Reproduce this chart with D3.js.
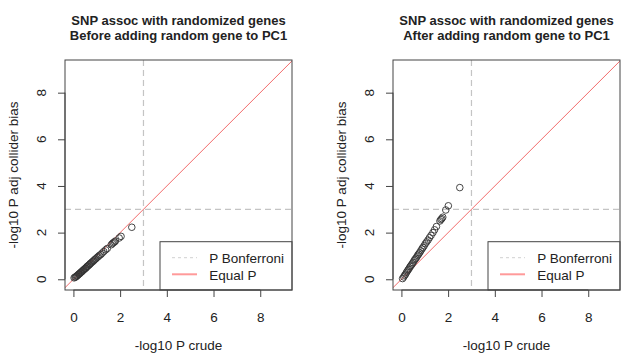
<!DOCTYPE html>
<html>
<head>
<meta charset="utf-8">
<script src="https://cdn.jsdelivr.net/npm/d3@7"></script>
<style>
  html, body { margin: 0; padding: 0; background: #fff; }
  svg { display: block; }
  text { font-family: "Liberation Sans", Arial, Helvetica, sans-serif; fill: #222; }
</style>
</head>
<body>
<svg id="chart" width="624" height="359"></svg>
<script>
// ---- data ----
const titlesLine1 = ["SNP assoc with randomized genes", "SNP assoc with randomized genes"];
const titlesLine2 = ["Before adding random gene to PC1", "After adding random gene to PC1"];
const xLabel = "-log10 P crude";
const yLabel = "-log10 P adj collider bias";
const xTicks = [0, 2, 4, 6, 8];
const yTicks = [0, 2, 4, 6, 8];
const bonferroni = 3;
const legendLabels = ["P Bonferroni", "Equal P"];

const crudeBefore = [0.03, 0.07, 0.1, 0.13, 0.16, 0.19, 0.22, 0.25, 0.28, 0.31, 0.34, 0.37, 0.4, 0.43, 0.46, 0.5, 0.53, 0.56, 0.59, 0.62, 0.66, 0.69, 0.72, 0.76, 0.8, 0.84, 0.88, 0.92, 0.96, 1.01, 1.06, 1.11, 1.17, 1.23, 1.3, 1.38, 1.45, 1.62, 1.67, 1.71, 1.76, 1.8, 1.96, 2.04, 2.5];
const adjBefore   = [0.06, 0.09, 0.1, 0.13, 0.15, 0.18, 0.21, 0.23, 0.26, 0.29, 0.31, 0.34, 0.37, 0.4, 0.42, 0.46, 0.48, 0.52, 0.55, 0.57, 0.61, 0.63, 0.67, 0.7, 0.74, 0.77, 0.81, 0.85, 0.88, 0.93, 0.97, 1.02, 1.06, 1.12, 1.19, 1.26, 1.32, 1.48, 1.53, 1.57, 1.6, 1.64, 1.77, 1.84, 2.23];

const crudeAfter = [0.05, 0.1, 0.14, 0.18, 0.22, 0.26, 0.3, 0.34, 0.38, 0.42, 0.46, 0.5, 0.54, 0.58, 0.62, 0.66, 0.7, 0.74, 0.78, 0.83, 0.88, 0.92, 0.97, 1.02, 1.08, 1.14, 1.2, 1.27, 1.35, 1.42, 1.5, 1.65, 1.69, 1.73, 1.77, 1.9, 2.01, 2.5];
const adjAfter   = [0.03, 0.1, 0.17, 0.22, 0.3, 0.36, 0.42, 0.48, 0.55, 0.6, 0.66, 0.72, 0.79, 0.85, 0.9, 0.96, 1.03, 1.08, 1.14, 1.22, 1.3, 1.36, 1.43, 1.52, 1.6, 1.68, 1.78, 1.88, 2.0, 2.12, 2.26, 2.5, 2.56, 2.6, 2.66, 2.97, 3.15, 3.93];

const panels = [
  { crude: crudeBefore, adj: adjBefore, left: 65 },
  { crude: crudeAfter, adj: adjAfter, left: 393 }
];

// ---- drawing ----
const svg = d3.select("#chart");
const plotW = 227, plotTop = 60, plotBottom = 290;
const xDomain = [-0.36, 9.36];
const yDomain = [-0.46, 9.4];
const boxCol = "#444";
const fs = "13.5px";

panels.forEach((p, i) => {
  const x = d3.scaleLinear().domain(xDomain).range([p.left, p.left + plotW]);
  const y = d3.scaleLinear().domain(yDomain).range([plotBottom, plotTop]);
  const g = svg.append("g");
  const cx = p.left + plotW / 2;

  // titles
  g.append("text").attr("x", cx).attr("y", 24.5).attr("text-anchor", "middle")
    .style("font-size", "13px").style("font-weight", "bold").text(titlesLine1[i]);
  g.append("text").attr("x", cx).attr("y", 39.5).attr("text-anchor", "middle")
    .style("font-size", "13px").style("font-weight", "bold").text(titlesLine2[i]);

  // clip
  const clipId = "clip" + i;
  svg.append("clipPath").attr("id", clipId).append("rect")
    .attr("x", p.left).attr("y", plotTop).attr("width", plotW).attr("height", plotBottom - plotTop);
  const inner = g.append("g").attr("clip-path", `url(#${clipId})`);

  // Bonferroni lines
  inner.append("line").attr("x1", x(bonferroni)).attr("x2", x(bonferroni))
    .attr("y1", plotTop).attr("y2", plotBottom)
    .attr("stroke", "#c4c4c4").attr("stroke-width", 1.2).attr("stroke-dasharray", "6,4");
  inner.append("line").attr("x1", p.left).attr("x2", p.left + plotW)
    .attr("y1", y(bonferroni)).attr("y2", y(bonferroni))
    .attr("stroke", "#c4c4c4").attr("stroke-width", 1.2).attr("stroke-dasharray", "6,4");

  // Equal P line
  inner.append("line").attr("x1", x(xDomain[0])).attr("y1", y(xDomain[0]))
    .attr("x2", x(xDomain[1] + 1)).attr("y2", y(xDomain[1] + 1))
    .attr("stroke", "#f26b6b").attr("stroke-width", 1);

  // points
  const pts = p.crude.map((c, k) => ({ c: c, a: p.adj[k] }));
  inner.selectAll("circle").data(pts).enter().append("circle")
    .attr("cx", d => x(d.c)).attr("cy", d => y(d.a)).attr("r", 3.3)
    .attr("fill", "none").attr("stroke", "#333").attr("stroke-width", 0.9);

  // legend
  const lgL = p.left + 95, lgT = 241.7;
  g.append("rect").attr("x", lgL).attr("y", lgT)
    .attr("width", p.left + plotW - lgL).attr("height", plotBottom - lgT)
    .attr("fill", "#fff").attr("stroke", boxCol).attr("stroke-width", 1);
  g.append("line").attr("x1", lgL + 12).attr("x2", lgL + 37).attr("y1", 257.7).attr("y2", 257.7)
    .attr("stroke", "#d0d0d0").attr("stroke-width", 1).attr("stroke-dasharray", "3,3");
  g.append("line").attr("x1", lgL + 12).attr("x2", lgL + 37).attr("y1", 274.3).attr("y2", 274.3)
    .attr("stroke", "#ff9a9a").attr("stroke-width", 2);
  g.append("text").attr("x", lgL + 49.3).attr("y", 262.7).style("font-size", fs).text(legendLabels[0]);
  g.append("text").attr("x", lgL + 49.3).attr("y", 279.5).style("font-size", fs).text(legendLabels[1]);

  // box
  g.append("rect").attr("x", p.left).attr("y", plotTop).attr("width", plotW).attr("height", plotBottom - plotTop)
    .attr("fill", "none").attr("stroke", boxCol).attr("stroke-width", 1);

  // x axis
  const xa = g.append("g").attr("transform", `translate(0,${plotBottom})`)
    .call(d3.axisBottom(x).tickValues(xTicks).tickSize(7).tickPadding(5).tickFormat(d3.format("d")));
  xa.select(".domain").attr("stroke", boxCol).attr("d", `M${x(0)},0H${x(8)}`);
  xa.selectAll(".tick line").attr("stroke", boxCol);
  xa.selectAll(".tick text").style("font-size", fs).attr("fill", "#222")
    .style("font-family", "'Liberation Sans', Arial, Helvetica, sans-serif")
    .attr("dy", null).attr("y", 31.5);

  // y axis
  const ya = g.append("g").attr("transform", `translate(${p.left},0)`)
    .call(d3.axisLeft(y).tickValues(yTicks).tickSize(7).tickFormat(d3.format("d")));
  ya.select(".domain").attr("stroke", boxCol).attr("d", `M0,${y(0)}V${y(8)}`);
  ya.selectAll(".tick line").attr("stroke", boxCol);
  ya.selectAll(".tick text").remove();
  yTicks.forEach(t => {
    g.append("text").attr("transform", `translate(${p.left - 19},${y(t)}) rotate(-90)`)
      .attr("text-anchor", "middle").style("font-size", fs).text(t);
  });

  // axis labels
  g.append("text").attr("x", cx).attr("y", 350).attr("text-anchor", "middle")
    .style("font-size", fs).text(xLabel);
  g.append("text").attr("transform", `translate(${p.left - 47},${(plotTop + plotBottom) / 2}) rotate(-90)`)
    .attr("text-anchor", "middle").style("font-size", fs).text(yLabel);
});
</script>
</body>
</html>
